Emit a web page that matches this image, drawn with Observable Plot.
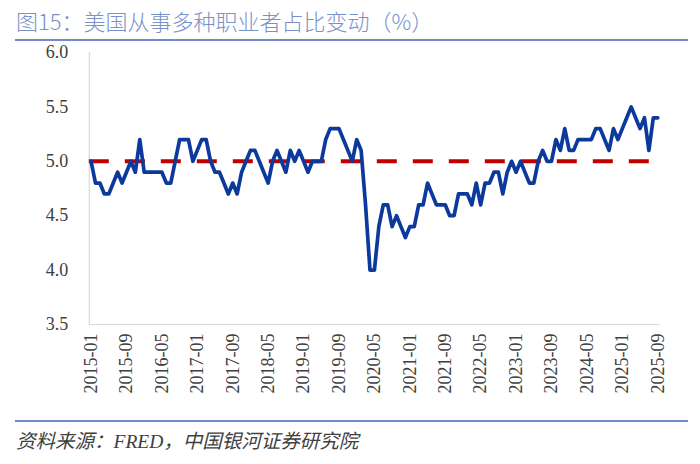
<!DOCTYPE html>
<html><head><meta charset="utf-8">
<script src="https://cdn.jsdelivr.net/npm/d3@7"></script>
<script src="https://cdn.jsdelivr.net/npm/@observablehq/plot@0.6"></script>
<style>
body{margin:0;background:#fff;}
#wrap{position:relative;width:700px;height:464px;overflow:hidden;background:#fff;font-family:"Noto Sans CJK SC",sans-serif;}
#title{position:absolute;left:16px;top:6px;font-size:22px;font-weight:300;color:#7891c8;white-space:nowrap;line-height:28px;}
.rule{position:absolute;left:15px;width:673px;height:2px;background:#6f8cc8;}
#chart{position:absolute;left:0;top:42px;}
#caption{position:absolute;left:16px;top:428px;font-size:19.5px;font-style:italic;color:#404040;white-space:nowrap;line-height:24px;}
#caption .lat{font-family:"Liberation Serif",serif;}
</style></head>
<body><div id="wrap">
<div id="title">图15：美国从事多种职业者占比变动（%）</div>
<div class="rule" style="top:39px"></div>
<div id="chart"></div>
<div class="rule" style="top:420px"></div>
<div id="caption">资料来源：<span class="lat">FRED</span>，中国银河证券研究院</div>
</div>
<script>
const months = [
"2015-01","2015-02","2015-03","2015-04","2015-05","2015-06","2015-07","2015-08","2015-09","2015-10","2015-11","2015-12",
"2016-01","2016-02","2016-03","2016-04","2016-05","2016-06","2016-07","2016-08","2016-09","2016-10","2016-11","2016-12",
"2017-01","2017-02","2017-03","2017-04","2017-05","2017-06","2017-07","2017-08","2017-09","2017-10","2017-11","2017-12",
"2018-01","2018-02","2018-03","2018-04","2018-05","2018-06","2018-07","2018-08","2018-09","2018-10","2018-11","2018-12",
"2019-01","2019-02","2019-03","2019-04","2019-05","2019-06","2019-07","2019-08","2019-09","2019-10","2019-11","2019-12",
"2020-01","2020-02","2020-03","2020-04","2020-05","2020-06","2020-07","2020-08","2020-09","2020-10","2020-11","2020-12",
"2021-01","2021-02","2021-03","2021-04","2021-05","2021-06","2021-07","2021-08","2021-09","2021-10","2021-11","2021-12",
"2022-01","2022-02","2022-03","2022-04","2022-05","2022-06","2022-07","2022-08","2022-09","2022-10","2022-11","2022-12",
"2023-01","2023-02","2023-03","2023-04","2023-05","2023-06","2023-07","2023-08","2023-09","2023-10","2023-11","2023-12",
"2024-01","2024-02","2024-03","2024-04","2024-05","2024-06","2024-07","2024-08","2024-09","2024-10","2024-11","2024-12",
"2025-01","2025-02","2025-03","2025-04","2025-05","2025-06","2025-07","2025-08","2025-09"
];
const share = [
5.0,4.8,4.8,4.7,4.7,4.8,4.9,4.8,4.9,5.0,4.9,5.2,
4.9,4.9,4.9,4.9,4.9,4.8,4.8,5.0,5.2,5.2,5.2,5.0,
5.1,5.2,5.2,5.0,4.9,4.9,4.8,4.7,4.8,4.7,4.9,5.0,
5.1,5.1,5.0,4.9,4.8,5.0,5.1,5.0,4.9,5.1,5.0,5.1,
5.0,4.9,5.0,5.0,5.0,5.2,5.3,5.3,5.3,5.2,5.1,5.0,
5.2,5.1,4.6,4.0,4.0,4.4,4.6,4.6,4.4,4.5,4.4,4.3,
4.4,4.4,4.6,4.6,4.8,4.7,4.6,4.6,4.6,4.5,4.5,4.7,
4.7,4.7,4.6,4.8,4.6,4.8,4.8,4.9,4.9,4.7,4.9,5.0,
4.9,5.0,4.9,4.8,4.8,5.0,5.1,5.0,5.0,5.2,5.1,5.3,
5.1,5.1,5.2,5.2,5.2,5.2,5.3,5.3,5.2,5.1,5.3,5.2,
5.3,5.4,5.5,5.4,5.3,5.4,5.1,5.4,5.4
];
const tickLabels = ["2015-01","2015-09","2016-05","2017-01","2017-09","2018-05","2019-01","2019-09","2020-05","2021-01","2021-09","2022-05","2023-01","2023-09","2024-05","2025-01","2025-09"];
const yTicks = [3.5,4.0,4.5,5.0,5.5,6.0];
const reference = [5.0];

const data = months.map((m,i)=>({i, m, v: share[i]}));
const tickIdx = tickLabels.map(t => months.indexOf(t));

const chart = Plot.plot({
  width: 700, height: 375,
  marginLeft: 88.8, marginRight: 40.1, marginTop: 10, marginBottom: 93,
  style: {fontFamily: "'Liberation Serif', serif", fontSize: "18px", color: "#404040", background: "#fff"},
  x: {type: "linear", domain: [-0.4, 128.6]},
  y: {domain: [3.5, 6.0]},
  marks: [
    Plot.ruleX([-0.4], {stroke: "#d9d9d9", strokeWidth: 1.2}),
    Plot.ruleY([3.5], {stroke: "#d9d9d9", strokeWidth: 1.2}),
    Plot.ruleY(reference, {y: d => d, stroke: "#c00000", strokeWidth: 4, strokeDasharray: "20,16"}),
    Plot.line(data, {x: "i", y: "v", stroke: "#0c3a9c", strokeWidth: 3.7, strokeLinejoin: "round", strokeLinecap: "round"}),
    Plot.axisY(yTicks, {tickSize: 0, tickPadding: 21, tickFormat: d => d.toFixed(1), label: null, fill: "#404040"}),
    Plot.axisX(tickIdx, {tickSize: 0, tickPadding: 9, tickRotate: -90, tickFormat: i => months[i], label: null, fill: "#404040"})
  ]
});
document.getElementById("chart").appendChild(chart);
</script>
</body></html>
